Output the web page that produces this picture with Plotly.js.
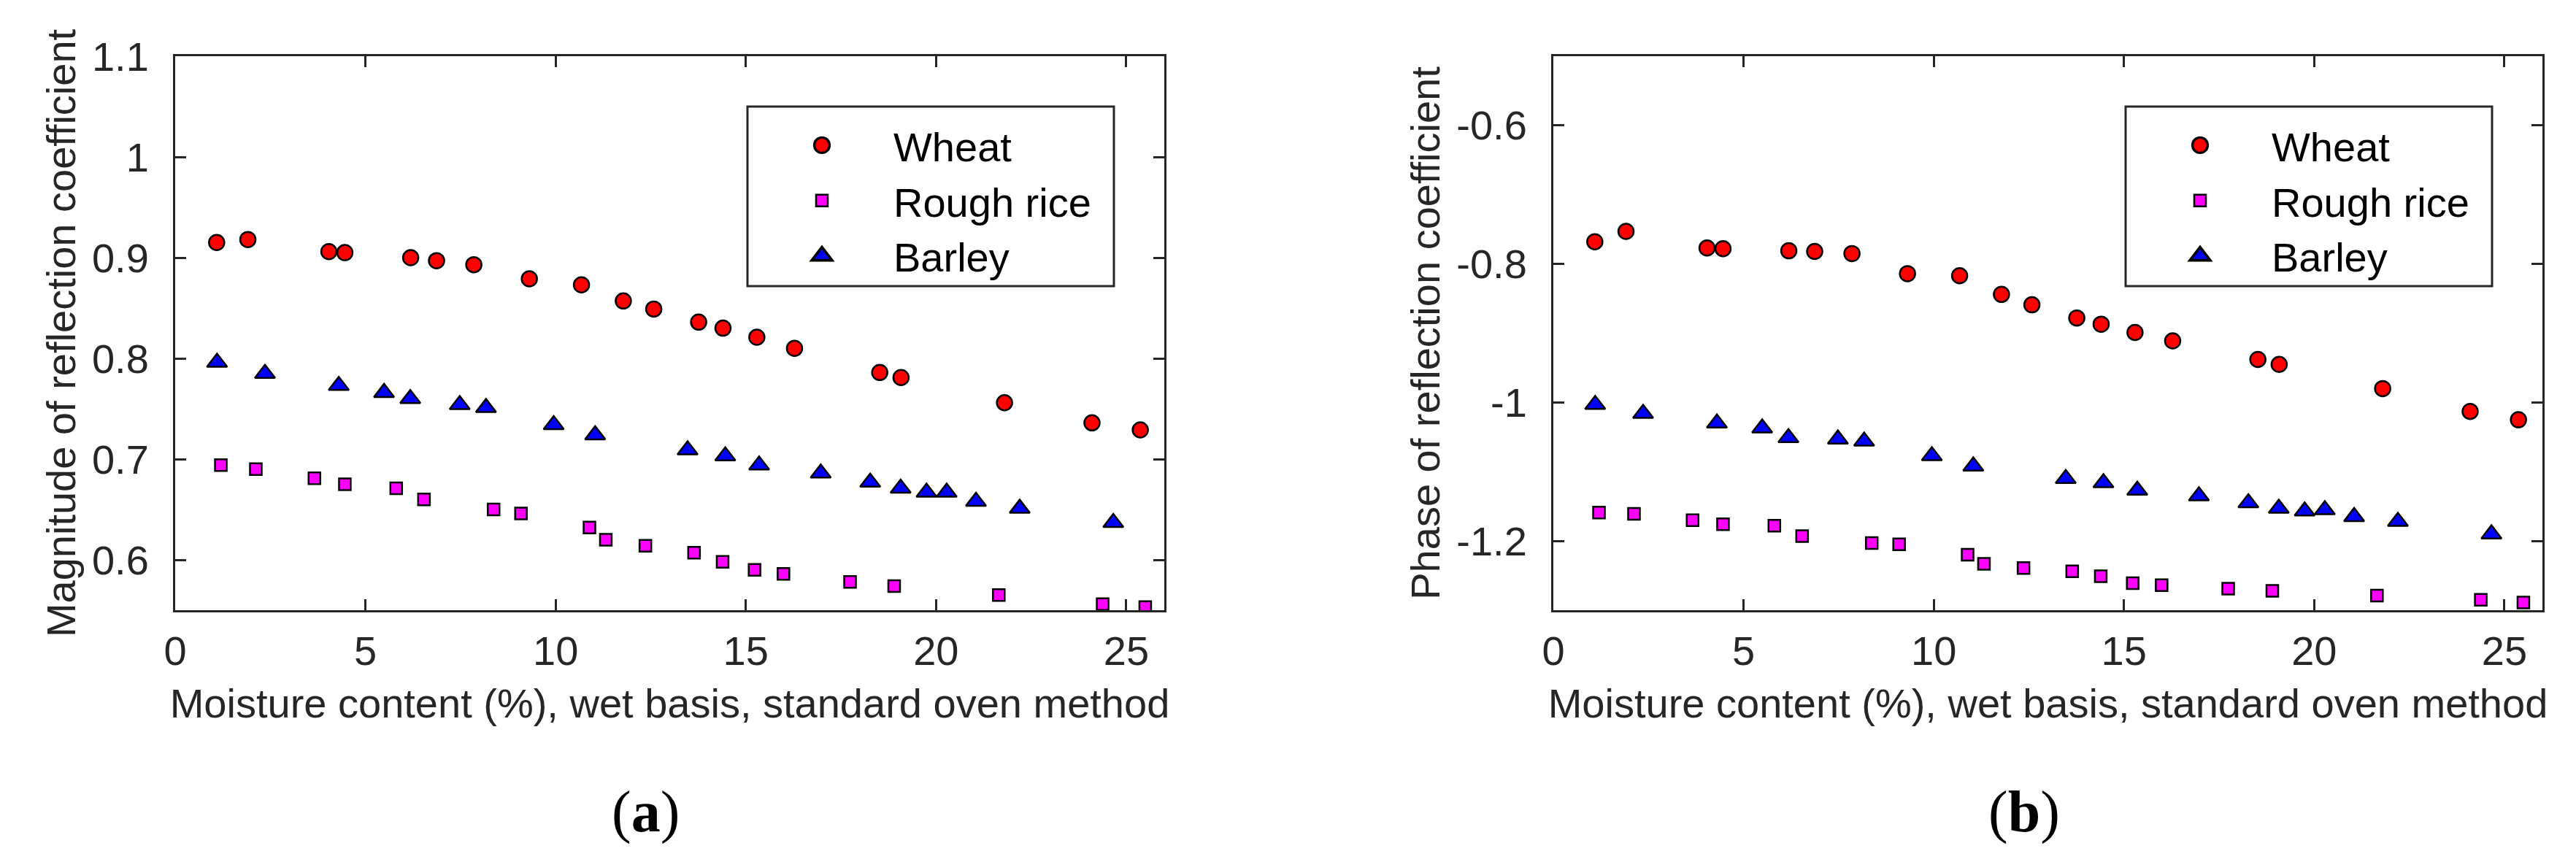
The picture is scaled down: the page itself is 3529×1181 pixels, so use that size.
<!DOCTYPE html>
<html>
<head>
<meta charset="utf-8">
<script src="https://cdn.plot.ly/plotly-3.0.1.min.js"></script>
<style>
  html, body { margin: 0; padding: 0; background: #fff; }
  #chart { width: 3529px; height: 1181px; }
</style>
</head>
<body>
<div id="chart"></div>
<script>
// moisture content (%), wet basis, per grain
const moistureWheat = [1.09, 1.91, 4.04, 4.46, 6.19, 6.87, 7.85, 9.31, 10.68, 11.78, 12.58, 13.76, 14.40, 15.29, 16.28, 18.52, 19.08, 21.80, 24.10, 25.37];
const moistureRice = [1.20, 2.12, 3.66, 4.46, 5.81, 6.54, 8.37, 9.09, 10.89, 11.32, 12.36, 13.64, 14.39, 15.23, 15.99, 17.74, 18.90, 21.65, 24.38, 25.50];
const moistureBarley = [1.10, 2.36, 4.30, 5.49, 6.18, 7.48, 8.17, 9.95, 11.04, 13.47, 14.46, 15.35, 16.97, 18.27, 19.07, 19.75, 20.28, 21.05, 22.20, 24.66];

// (a) magnitude of reflection coefficient
const magWheat = [0.915, 0.918, 0.906, 0.905, 0.900, 0.897, 0.893, 0.879, 0.873, 0.857, 0.849, 0.836, 0.830, 0.821, 0.810, 0.786, 0.781, 0.756, 0.736, 0.729];
const magRice = [0.694, 0.690, 0.681, 0.675, 0.671, 0.660, 0.650, 0.646, 0.632, 0.620, 0.614, 0.607, 0.598, 0.590, 0.586, 0.578, 0.574, 0.565, 0.556, 0.553];
const magBarley = [0.796, 0.785, 0.773, 0.766, 0.760, 0.754, 0.751, 0.734, 0.724, 0.709, 0.703, 0.694, 0.686, 0.677, 0.671, 0.667, 0.667, 0.658, 0.651, 0.637];

// (b) phase of reflection coefficient
const phaseWheat = [-0.768, -0.753, -0.777, -0.778, -0.781, -0.782, -0.785, -0.814, -0.817, -0.844, -0.859, -0.878, -0.887, -0.899, -0.911, -0.938, -0.945, -0.980, -1.013, -1.025];
const phaseRice = [-1.159, -1.161, -1.170, -1.176, -1.178, -1.193, -1.203, -1.205, -1.220, -1.233, -1.239, -1.244, -1.251, -1.261, -1.264, -1.269, -1.272, -1.279, -1.285, -1.289];
const phaseBarley = [-1.003, -1.016, -1.030, -1.037, -1.051, -1.053, -1.056, -1.077, -1.092, -1.110, -1.116, -1.127, -1.135, -1.145, -1.153, -1.157, -1.155, -1.165, -1.172, -1.190];

const grainNames = ['Wheat', 'Rough rice', 'Barley'];
const xTicks = [0, 5, 10, 15, 20, 25];
const magTicks = [0.6, 0.7, 0.8, 0.9, 1, 1.1];
const magTickText = ['0.6', '0.7', '0.8', '0.9', '1', '1.1'];
const phaseTicks = [-1.2, -1, -0.8, -0.6];
const phaseTickText = ['-1.2', '-1', '-0.8', '-0.6'];

const W = 3529, H = 1181;
const px = v => v / W;
const py = v => 1 - v / H;

const FONT = '"Liberation Sans", Arial, Helvetica, sans-serif';
const AX = '#262626';

const styles = [
  { symbol: 'circle', size: 21, color: '#ff0000' },
  { symbol: 'square', size: 16, color: '#ff00ff' },
  { symbol: 'triangle-up', size: 24, color: '#0000ff' }
];

function grainTrace(i, xs, ys, xa, ya, legend) {
  const s = styles[i];
  return {
    x: xs, y: ys, xaxis: xa, yaxis: ya, legend: legend,
    type: 'scatter', mode: 'markers', name: grainNames[i],
    marker: { symbol: s.symbol, size: s.size, color: s.color, line: { color: '#000', width: 2.5 } },
    hoverinfo: 'skip'
  };
}

const traces = [
  grainTrace(0, moistureWheat, magWheat, 'x', 'y', 'legend'),
  grainTrace(1, moistureRice, magRice, 'x', 'y', 'legend'),
  grainTrace(2, moistureBarley, magBarley, 'x', 'y', 'legend'),
  grainTrace(0, moistureWheat, phaseWheat, 'x2', 'y2', 'legend2'),
  grainTrace(1, moistureRice, phaseRice, 'x2', 'y2', 'legend2'),
  grainTrace(2, moistureBarley, phaseBarley, 'x2', 'y2', 'legend2')
];

function axisBase() {
  return {
    showline: true, linecolor: AX, linewidth: 3, mirror: 'ticks',
    ticks: 'inside', ticklen: 15, tickwidth: 3, tickcolor: AX,
    showgrid: false, zeroline: false, automargin: false,
    tickfont: { family: FONT, size: 56, color: AX },
    fixedrange: true
  };
}

const xTitle = 'Moisture content (%), wet basis, standard oven method';

const xaxis = Object.assign(axisBase(), {
  domain: [px(240), px(1595)], anchor: 'y', range: [0, 26], tickvals: xTicks,
  ticklabelstandoff: 5,
  title: { text: xTitle, font: { family: FONT, size: 56, color: AX }, standoff: 22 }
});
const xaxis2 = Object.assign(axisBase(), {
  domain: [px(2128), px(3483)], anchor: 'y2', range: [0, 26], tickvals: xTicks,
  ticklabelstandoff: 5,
  title: { text: xTitle, font: { family: FONT, size: 56, color: AX }, standoff: 22 }
});
const yaxis = Object.assign(axisBase(), {
  domain: [py(836), py(77)], anchor: 'x', range: [0.55, 1.1],
  tickvals: magTicks, ticktext: magTickText, ticklabelstandoff: 22,
  title: { text: 'Magnitude of reflection coefficient', font: { family: FONT, size: 56, color: AX }, standoff: 5 }
});
const yaxis2 = Object.assign(axisBase(), {
  domain: [py(836), py(77)], anchor: 'x2', range: [-1.3, -0.5],
  tickvals: phaseTicks, ticktext: phaseTickText, ticklabelstandoff: 22,
  title: { text: 'Phase of reflection coefficient', font: { family: FONT, size: 56, color: AX }, standoff: 5 }
});

function legendAt(left) {
  return {
    x: px(left), y: py(156), xanchor: 'left', yanchor: 'top',
    bgcolor: 'rgba(0,0,0,0)', borderwidth: 0,
    itemwidth: 186, tracegroupgap: 0,
    font: { family: FONT, size: 56, color: '#000' }
  };
}

// legend frames (Plotly sizes its own border too tight)
function frame(left) {
  return {
    type: 'rect', xref: 'paper', yref: 'paper',
    x0: px(left), x1: px(left + 502), y0: py(392), y1: py(146),
    line: { color: AX, width: 3 }, fillcolor: '#fff', layer: 'below'
  };
}

const caption = (x, letter) => ({
  xref: 'paper', yref: 'paper', x: px(x), y: py(1112),
  xanchor: 'center', yanchor: 'middle', showarrow: false,
  text: '(<b>' + letter + '</b>)',
  font: { family: '"Liberation Serif", "Times New Roman", serif', size: 80, color: '#000' }
});

const layout = {
  width: W, height: H,
  margin: { l: 0, r: 0, t: 0, b: 0 },
  paper_bgcolor: '#fff', plot_bgcolor: 'rgba(0,0,0,0)',
  showlegend: true,
  xaxis, yaxis, xaxis2, yaxis2,
  legend: legendAt(1028),
  legend2: legendAt(1028 + 1888),
  shapes: [frame(1024), frame(1024 + 1888)],
  annotations: [caption(885, 'a'), caption(2773, 'b')]
};

Plotly.newPlot('chart', traces, layout, { staticPlot: true }).then(() => {
  // legend symbols are capped at 16px by Plotly; grow them back to the marker size
  document.querySelectorAll('g.traces').forEach((g, i) => {
    const k = styles[i % 3].size / 16;
    g.querySelectorAll('path.scatterpts').forEach(p => {
      p.setAttribute('transform', (p.getAttribute('transform') || '') + ' scale(' + k + ')');
    });
  });
});
</script>
</body>
</html>
